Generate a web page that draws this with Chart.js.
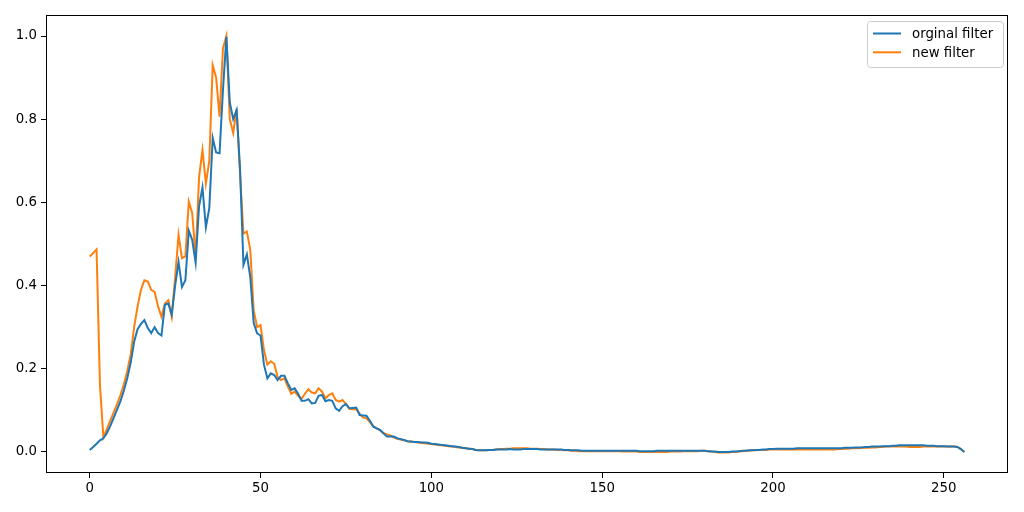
<!DOCTYPE html>
<html>
<head>
<meta charset="utf-8">
<script src="https://cdn.jsdelivr.net/npm/chart.js@4/dist/chart.umd.min.js"></script>
<style>
html,body{margin:0;padding:0;background:#fff;}
#wrap{width:1024px;height:512px;}
</style>
</head>
<body>
<div id="wrap"><canvas id="c" width="1024" height="512"></canvas></div>
<script>
const seriesNames = ['orginal filter', 'new filter'];
const seriesColors = ['#1f77b4', '#ff7f0e'];
const xTicks = [0, 50, 100, 150, 200, 250];
const xTickLabels = ['0', '50', '100', '150', '200', '250'];
const yTicks = [0, 0.2, 0.4, 0.6, 0.8, 1.0];
const yTickLabels = ['0.0', '0.2', '0.4', '0.6', '0.8', '1.0'];

const original = [
0.005,0.012,0.020,0.028,0.033,0.045,0.062,0.082,0.102,0.122,
0.148,0.178,0.215,0.265,0.295,0.308,0.317,0.298,0.286,0.300,
0.286,0.280,0.354,0.357,0.330,0.400,0.457,0.397,0.413,0.532,
0.510,0.455,0.590,0.636,0.540,0.586,0.755,0.720,0.718,0.870,
0.998,0.840,0.800,0.822,0.680,0.450,0.475,0.420,0.310,0.285,
0.280,0.210,0.177,0.189,0.185,0.173,0.183,0.183,0.165,0.149,
0.153,0.140,0.123,0.123,0.127,0.117,0.118,0.135,0.137,0.122,
0.125,0.123,0.105,0.099,0.110,0.115,0.105,0.106,0.107,0.089,
0.088,0.087,0.075,0.061,0.057,0.053,0.045,0.037,0.037,0.037,
0.033,0.031,0.029,0.026,0.025,0.024,0.024,0.023,0.023,0.022,
0.020,0.019,0.018,0.017,0.016,0.015,0.014,0.013,0.012,0.010,
0.009,0.008,0.007,0.005,0.004,0.004,0.004,0.005,0.005,0.006,
0.006,0.006,0.006,0.007,0.006,0.006,0.006,0.007,0.007,0.007,
0.007,0.007,0.006,0.006,0.006,0.006,0.006,0.006,0.006,0.005,
0.005,0.004,0.004,0.004,0.003,0.003,0.003,0.003,0.003,0.003,
0.003,0.003,0.003,0.003,0.003,0.003,0.003,0.003,0.003,0.003,
0.003,0.002,0.002,0.002,0.002,0.002,0.003,0.003,0.003,0.003,
0.003,0.003,0.003,0.003,0.003,0.003,0.003,0.003,0.003,0.003,
0.003,0.002,0.001,0.001,0.000,0.000,0.000,0.000,0.001,0.001,
0.002,0.003,0.003,0.004,0.004,0.005,0.005,0.006,0.006,0.007,
0.007,0.008,0.008,0.008,0.008,0.008,0.008,0.009,0.009,0.009,
0.009,0.009,0.009,0.009,0.009,0.009,0.009,0.009,0.009,0.009,
0.009,0.010,0.010,0.010,0.011,0.011,0.011,0.012,0.012,0.013,
0.013,0.013,0.014,0.014,0.014,0.015,0.015,0.016,0.016,0.016,
0.016,0.016,0.016,0.016,0.016,0.015,0.015,0.015,0.014,0.014,
0.014,0.013,0.013,0.013,0.012,0.007,0.000
];

const newFilter = [
0.470,0.478,0.487,0.160,0.035,0.055,0.075,0.095,0.115,0.137,
0.163,0.195,0.235,0.300,0.350,0.390,0.413,0.410,0.390,0.385,
0.350,0.325,0.357,0.365,0.325,0.420,0.522,0.466,0.470,0.602,
0.574,0.470,0.660,0.726,0.645,0.700,0.930,0.900,0.806,0.970,
1.000,0.800,0.767,0.825,0.670,0.525,0.530,0.486,0.340,0.300,
0.305,0.245,0.210,0.218,0.212,0.180,0.173,0.177,0.157,0.140,
0.145,0.135,0.128,0.140,0.151,0.143,0.141,0.153,0.145,0.129,
0.137,0.141,0.125,0.121,0.125,0.115,0.104,0.103,0.103,0.092,
0.083,0.081,0.072,0.062,0.057,0.052,0.045,0.042,0.040,0.035,
0.032,0.030,0.028,0.026,0.025,0.024,0.023,0.022,0.021,0.020,
0.019,0.018,0.017,0.016,0.015,0.014,0.013,0.012,0.011,0.010,
0.009,0.008,0.007,0.005,0.004,0.004,0.004,0.005,0.005,0.006,
0.007,0.007,0.008,0.008,0.009,0.009,0.009,0.009,0.009,0.008,
0.008,0.008,0.007,0.007,0.006,0.006,0.006,0.005,0.005,0.004,
0.004,0.003,0.003,0.002,0.002,0.002,0.002,0.002,0.002,0.002,
0.002,0.002,0.002,0.002,0.002,0.002,0.001,0.001,0.001,0.001,
0.001,0.000,0.000,0.000,0.000,0.000,0.000,0.000,0.000,0.000,
0.001,0.001,0.001,0.001,0.002,0.002,0.002,0.002,0.002,0.003,
0.003,0.002,0.001,0.000,-0.001,-0.001,-0.001,-0.001,0.000,0.000,
0.001,0.002,0.003,0.003,0.004,0.004,0.005,0.005,0.005,0.006,
0.006,0.006,0.006,0.006,0.006,0.006,0.006,0.006,0.006,0.006,
0.006,0.006,0.006,0.006,0.006,0.006,0.006,0.006,0.006,0.007,
0.007,0.008,0.008,0.009,0.009,0.009,0.010,0.010,0.010,0.011,
0.011,0.012,0.012,0.013,0.013,0.013,0.013,0.013,0.013,0.013,
0.012,0.012,0.012,0.012,0.013,0.013,0.013,0.013,0.013,0.013,
0.013,0.013,0.013,0.013,0.012,0.007,0.000
];

const FONT = {family: 'DejaVu Sans', size: 13.33};
Chart.defaults.color = '#000';
Chart.defaults.font.family = FONT.family;
Chart.defaults.font.size = FONT.size;

function toPoints(arr){ return arr.map((v, i) => ({x: i, y: v})); }

const boxAndLegend = {
  id: 'boxAndLegend',
  afterDatasetsDraw(chart){
    const ctx = chart.ctx, a = chart.chartArea;
    ctx.save();
    ctx.strokeStyle = '#000';
    ctx.lineWidth = 1;
    ctx.strokeRect(Math.round(a.left) + 0.5, Math.round(a.top) + 0.5,
                   Math.round(a.right - a.left) - 1, Math.round(a.bottom - a.top) - 1);
    // legend
    const bx = 867.5, by = 21.5, bw = 136, bh = 46, r = 3;
    ctx.beginPath();
    ctx.moveTo(bx + r, by);
    ctx.lineTo(bx + bw - r, by); ctx.arcTo(bx + bw, by, bx + bw, by + r, r);
    ctx.lineTo(bx + bw, by + bh - r); ctx.arcTo(bx + bw, by + bh, bx + bw - r, by + bh, r);
    ctx.lineTo(bx + r, by + bh); ctx.arcTo(bx, by + bh, bx, by + bh - r, r);
    ctx.lineTo(bx, by + r); ctx.arcTo(bx, by, bx + r, by, r);
    ctx.closePath();
    ctx.fillStyle = 'rgba(255,255,255,0.8)';
    ctx.fill();
    ctx.strokeStyle = '#cccccc';
    ctx.stroke();
    ctx.font = FONT.size + 'px "' + FONT.family + '"';
    ctx.textBaseline = 'middle';
    ctx.textAlign = 'left';
    chart.data.datasets.forEach((ds, k) => {
      const yy = 33.5 + k * 18.8;
      ctx.strokeStyle = ds.borderColor;
      ctx.lineWidth = 2;
      ctx.beginPath(); ctx.moveTo(873, yy); ctx.lineTo(901, yy); ctx.stroke();
      ctx.fillStyle = '#000';
      ctx.fillText(ds.label, 912, yy + 1);
    });
    ctx.restore();
  }
};

new Chart(document.getElementById('c'), {
  type: 'line',
  data: {
    datasets: [
      {label: seriesNames[0], data: toPoints(original), borderColor: seriesColors[0], borderWidth: 2, pointRadius: 0, tension: 0, fill: false},
      {label: seriesNames[1], data: toPoints(newFilter), borderColor: seriesColors[1], borderWidth: 2, pointRadius: 0, tension: 0, fill: false}
    ]
  },
  options: {
    responsive: false,
    animation: false,
    events: [],
    layout: {padding: {left: 0, top: 15, right: 16, bottom: 0}},
    plugins: {legend: {display: false}, tooltip: {enabled: false}},
    scales: {
      x: {
        type: 'linear', min: -12.8, max: 268.8,
        afterBuildTicks(s){ s.ticks = xTicks.map(v => ({value: v})); },
        afterFit(s){ s.height = 39; },
        ticks: {callback: (v, i) => xTickLabels[i], padding: 3, maxRotation: 0, autoSkip: false, color: '#000', font: FONT},
        grid: {drawOnChartArea: false, drawTicks: true, tickLength: 5, tickColor: '#000', tickWidth: 1},
        border: {display: false}
      },
      y: {
        type: 'linear', min: -0.0505, max: 1.0505,
        afterBuildTicks(s){ s.ticks = yTicks.map(v => ({value: v})); },
        afterFit(s){ s.width = 46; },
        ticks: {callback: (v, i) => yTickLabels[i], padding: 4, autoSkip: false, color: '#000', font: FONT},
        grid: {drawOnChartArea: false, drawTicks: true, tickLength: 5, tickColor: '#000', tickWidth: 1},
        border: {display: false}
      }
    }
  },
  plugins: [boxAndLegend]
});
</script>
</body>
</html>
